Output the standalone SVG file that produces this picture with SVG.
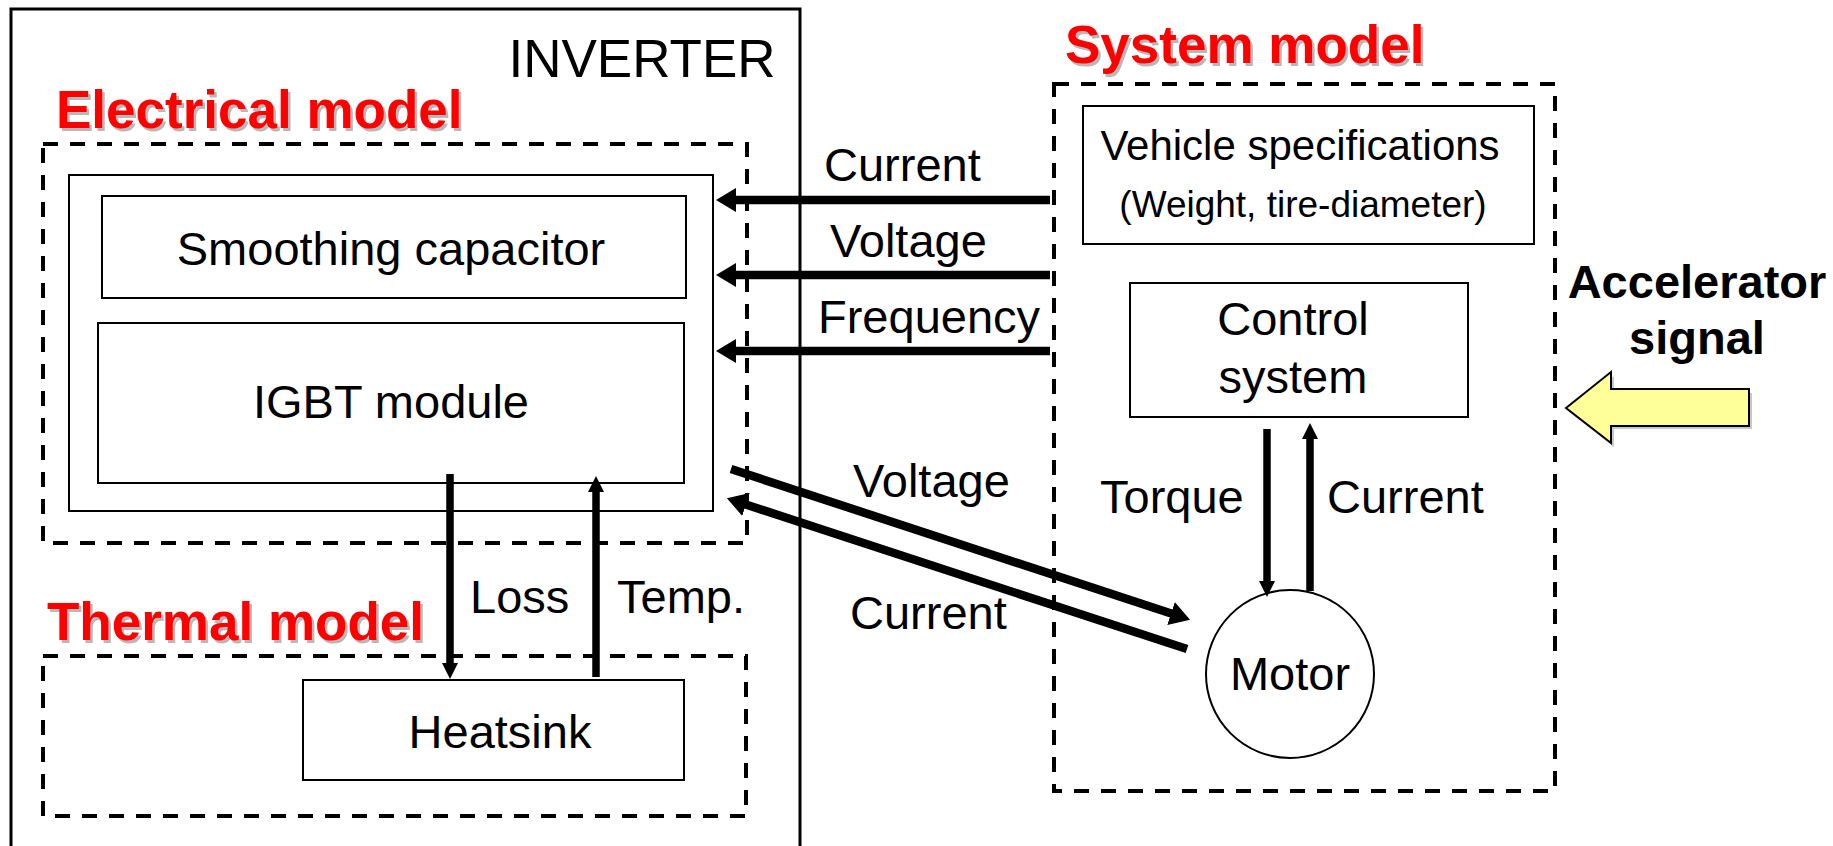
<svg xmlns="http://www.w3.org/2000/svg" width="1833" height="846" viewBox="0 0 1833 846">
<style>
  .box { fill: #fff; stroke: #000; stroke-width: 2; }
  .dash { fill: none; stroke: #000; stroke-width: 4; stroke-dasharray: 15 12; }
  .t { font-family: "Liberation Sans", Arial, sans-serif; font-size: 47px; fill: #000; }
  .title { font-family: "Liberation Sans", Arial, sans-serif; font-size: 53px; font-weight: bold; fill: #ff0000; }
  .shadow { font-family: "Liberation Sans", Arial, sans-serif; font-size: 53px; font-weight: bold; fill: #b8b8b8; }
  .big { stroke: #000; stroke-width: 8.5; fill: none; }
  .thin { stroke: #000; stroke-width: 7.5; fill: none; }
  .mid { text-anchor: middle; }
</style>
<defs>
  <marker id="ah" markerUnits="userSpaceOnUse" markerWidth="20" markerHeight="24" viewBox="0 0 20 24" refX="1" refY="12" orient="auto">
    <path d="M0,0 L20,12 L0,24 z" fill="#000"/>
  </marker>
  <marker id="as" markerUnits="userSpaceOnUse" markerWidth="16" markerHeight="16" viewBox="0 0 16 16" refX="1" refY="8" orient="auto">
    <path d="M0,0 L16,8 L0,16 z" fill="#000"/>
  </marker>
</defs>
<rect x="0" y="0" width="1833" height="846" fill="#fff"/>

<g id="inverter">
  <path d="M11,850 V9 H800 V850" fill="none" stroke="#000" stroke-width="3"/>
  <text class="t mid" x="642" y="77" style="font-size:53px">INVERTER</text>
</g>

<g id="electrical-model">
  <rect class="dash" x="43" y="144" width="704" height="399"/>
  <text class="shadow" x="58.5" y="130.5">Electrical model</text>
  <text class="title" x="56" y="128">Electrical model</text>
  <rect class="box" x="69" y="175" width="644" height="336"/>
</g>

<g id="smoothing-capacitor">
  <rect class="box" x="102" y="196" width="584" height="102"/>
  <text class="t mid" x="391" y="265">Smoothing capacitor</text>
</g>

<g id="igbt-module">
  <rect class="box" x="98" y="323" width="586" height="160"/>
  <text class="t mid" x="391" y="418">IGBT module</text>
</g>

<g id="thermal-model">
  <rect class="dash" x="43" y="656" width="703" height="160"/>
  <text class="shadow" x="49.5" y="642.5">Thermal model</text>
  <text class="title" x="47" y="640">Thermal model</text>
</g>

<g id="heatsink">
  <rect class="box" x="303" y="680" width="381" height="100"/>
  <text class="t mid" x="500" y="748">Heatsink</text>
</g>

<g id="system-model">
  <rect class="dash" x="1054" y="84" width="501" height="707"/>
  <text class="shadow" x="1067.5" y="65.5">System model</text>
  <text class="title" x="1065" y="63">System model</text>
</g>

<g id="vehicle-specifications">
  <rect class="box" x="1083" y="106" width="451" height="138"/>
  <text class="t mid" x="1300" y="160" style="font-size:42px">Vehicle specifications</text>
  <text class="t mid" x="1303" y="217" style="font-size:37px">(Weight, tire-diameter)</text>
</g>

<g id="control-system">
  <rect class="box" x="1130" y="283" width="338" height="134"/>
  <text class="t mid" x="1293" y="335">Control</text>
  <text class="t mid" x="1293" y="393">system</text>
</g>

<g id="motor">
  <circle cx="1290" cy="674" r="84" fill="#fff" stroke="#000" stroke-width="2"/>
  <text class="t mid" x="1290" y="690">Motor</text>
</g>

<g id="accelerator-signal">
  <polygon points="1568,411 1614,376 1614,393 1752,393 1752,429 1614,429 1614,447" fill="#c8c8c8"/>
  <polygon points="1566,408 1611,372 1611,389 1749,389 1749,426 1611,426 1611,443" fill="#ffff99" stroke="#000" stroke-width="2" stroke-linejoin="miter"/>
  <text class="t mid" x="1697" y="298" style="font-weight:bold">Accelerator</text>
  <text class="t mid" x="1697" y="354" style="font-weight:bold">signal</text>
</g>

<g id="connectors">
  <line class="big" x1="1050" y1="200" x2="735" y2="200" marker-end="url(#ah)"/>
  <line class="big" x1="1050" y1="275" x2="735" y2="275" marker-end="url(#ah)"/>
  <line class="big" x1="1050" y1="351" x2="735" y2="351" marker-end="url(#ah)"/>
  <line class="big" x1="731" y1="469" x2="1172" y2="613.8" marker-end="url(#ah)"/>
  <line class="big" x1="1187" y1="649" x2="745" y2="504.2" marker-end="url(#ah)"/>
  <line class="thin" x1="450" y1="474" x2="450" y2="664" marker-end="url(#as)"/>
  <line class="thin" x1="596" y1="677" x2="596" y2="491" marker-end="url(#as)"/>
  <line class="thin" x1="1267" y1="429" x2="1267" y2="582" marker-end="url(#as)"/>
  <line class="thin" x1="1310" y1="591" x2="1310" y2="438" marker-end="url(#as)"/>
  <text class="t" x="824" y="181">Current</text>
  <text class="t" x="830" y="257">Voltage</text>
  <text class="t" x="818" y="333">Frequency</text>
  <text class="t" x="853" y="497">Voltage</text>
  <text class="t" x="850" y="629">Current</text>
  <text class="t" x="470" y="613">Loss</text>
  <text class="t" x="617" y="613">Temp.</text>
  <text class="t" x="1100" y="513">Torque</text>
  <text class="t" x="1327" y="513">Current</text>
</g>
</svg>
